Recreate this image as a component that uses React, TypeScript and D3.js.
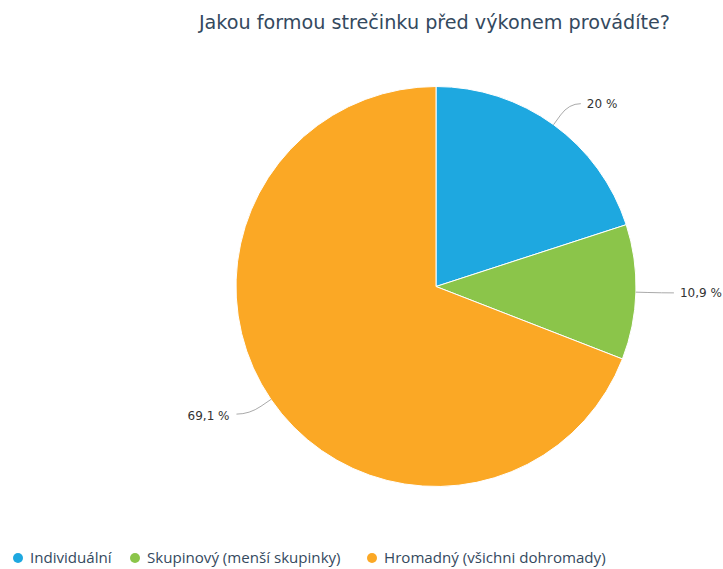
import React from "react";
import * as d3 from "d3";

const categories = ["Individuální", "Skupinový (menší skupinky)", "Hromadný (všichni dohromady)"];
const values = [20, 10.9, 69.1];
const labels = ["20 %", "10,9 %", "69,1 %"];
const colors = ["#1ea8e0", "#8bc54a", "#fba825"];
const title = "Jakou formou strečinku před výkonem provádíte?";

export default function App() {
  const W = 723, H = 569;
  const cx = 436, cy = 286.5, r = 200;
  const pie = d3.pie<number>().sort(null).value((d) => d)(values);
  const arc = d3.arc<d3.PieArcDatum<number>>().innerRadius(0).outerRadius(r);
  const legendX = [18, 135, 372];
  return (
    <svg width={W} height={H} style={{ position: "absolute", left: 0, top: 0 }}>
      <rect width={W} height={H} fill="#ffffff" />
      <text x={434.5} y={29} textAnchor="middle" fontFamily="DejaVu Sans" fontSize={19.2} fill="#34495e">
        {title}
      </text>
      <g transform={`translate(${cx},${cy})`}>
        {pie.map((p, i) => (
          <path key={i} d={arc(p) || ""} fill={colors[i]} stroke="#ffffff" strokeWidth={1} />
        ))}
        {pie.map((p, i) => {
          const a = (p.startAngle + p.endAngle) / 2;
          const sx = Math.sin(a), sy = -Math.cos(a);
          const x0 = r * sx, y0 = r * sy;
          const x1 = (r + 26) * sx, y1 = (r + 26) * sy;
          const right = sx >= 0;
          const x2 = x1 + (right ? 12 : -13);
          const mx = (r + 12) * sx, my = (r + 12) * sy;
          return (
            <g key={"l" + i}>
              <path
                d={`M${x0},${y0} L${mx},${my} Q${x1},${y1} ${x2},${y1}`}
                fill="none"
                stroke="#aaaaaa"
                strokeWidth={1}
              />
              <text
                x={x2 + (right ? 6 : -7)}
                y={y1 + (right ? 0 : 2)}
                dy="0.35em"
                textAnchor={right ? "start" : "end"}
                fontFamily="DejaVu Sans"
                fontSize={12}
                fill="#333333"
              >
                {labels[i]}
              </text>
            </g>
          );
        })}
      </g>
      {categories.map((c, i) => (
        <g key={"lg" + i} transform={`translate(${legendX[i]},558)`}>
          <circle cx={0} cy={0} r={5} fill={colors[i]} />
          <text x={12} y={0} dy="0.35em" fontFamily="Open Sans" fontSize={15.1} fill="#34495e">
            {c}
          </text>
        </g>
      ))}
    </svg>
  );
}
